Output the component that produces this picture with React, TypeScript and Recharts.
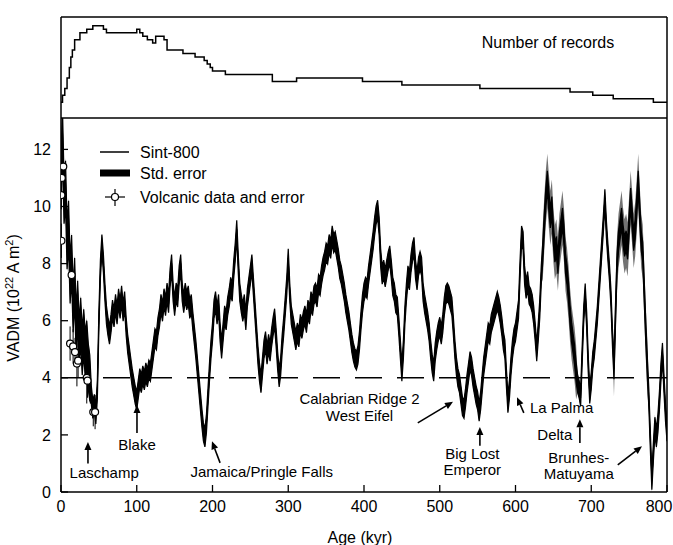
import React from 'react';
import { ComposedChart, LineChart, Line, Area, Scatter, ErrorBar, XAxis, YAxis, ReferenceLine } from 'recharts';

// Sint-800 VADM (10^22 A m^2), one value every 2 kyr from 0 to 800 kyr
const AGE_STEP = 2;
const vadm = [
  11.0, 12.6, 10.2, 10.8, 8.6, 9.4, 7.4, 8.2, 6.4, 7.4,
  5.6, 6.6, 5.2, 6.0, 4.9, 5.6, 4.8, 5.2, 4.4, 4.0,
  3.4, 2.9, 3.1, 2.7, 3.6, 6.0, 7.8, 8.7, 8.0, 7.0,
  6.2, 5.8, 5.5, 5.9, 6.4, 6.1, 6.6, 6.2, 6.8, 6.4,
  6.9, 6.3, 6.7, 5.8, 5.2, 4.8, 4.4, 4.0, 3.7, 3.4,
  3.2, 3.6, 4.0, 3.8, 4.1, 3.9, 4.2, 4.0, 4.3, 4.2,
  4.6, 5.0, 5.4, 5.3, 5.8, 6.1, 6.6, 6.3, 6.8, 6.5,
  7.0, 6.6, 7.5, 8.0, 7.0, 6.5, 7.0, 6.8, 7.6, 8.0,
  7.0, 6.6, 7.0, 6.7, 6.9, 6.4, 6.6, 6.0, 5.5, 5.0,
  4.4, 3.8, 3.2, 2.6, 2.1, 1.9, 2.4, 3.3, 4.2, 5.0,
  5.6, 6.4, 6.7, 6.2, 6.6, 5.6, 5.0, 5.6, 6.2, 6.0,
  6.5, 6.8, 7.2, 7.0, 7.8, 8.4, 9.2, 8.0, 7.0, 6.6,
  6.3, 6.6, 6.0, 6.8, 7.2, 7.6, 8.0, 7.2, 6.4, 5.6,
  4.8, 4.2, 3.8, 4.4, 5.0, 5.3, 4.8, 5.2, 4.9, 5.4,
  5.8, 6.1, 5.4, 4.6, 4.0, 4.4, 5.2, 5.8, 6.5, 7.2,
  8.2, 7.0, 6.2, 5.9, 5.6, 5.3, 5.6, 5.4, 5.9, 5.7,
  6.0, 6.2, 5.9, 6.4, 6.2, 6.7, 6.5, 6.9, 7.0, 6.8,
  7.3, 7.2, 7.6, 7.9, 8.1, 8.4, 8.3, 8.7, 8.5, 9.0,
  8.7, 8.8, 8.5, 8.2, 7.8, 7.6, 7.3, 7.0, 6.6, 6.3,
  6.0, 5.6, 5.2, 4.9, 4.7, 4.6, 4.8, 5.3, 6.0, 6.6,
  7.0, 7.2, 7.1, 7.6, 8.0, 8.4, 8.8, 9.3, 9.7, 9.9,
  9.3, 8.2, 7.6, 7.8, 7.5, 7.8, 8.1, 8.3, 7.8, 7.2,
  7.0, 6.6, 6.5, 5.8, 5.0, 4.2, 5.0, 6.2, 7.0, 7.6,
  7.4, 8.0, 8.4, 8.6, 7.8, 7.4, 7.9, 8.1, 7.9, 7.0,
  6.6, 6.3, 6.0, 5.6, 5.0, 4.5, 4.2, 4.9, 5.3, 5.6,
  5.8, 5.5, 5.9, 6.5, 6.9, 7.0, 6.9, 6.7, 6.5, 5.8,
  5.0, 4.4, 4.0, 3.8, 3.4, 3.0, 2.9, 3.3, 3.8, 4.2,
  4.6, 4.4, 4.0, 3.7, 3.4, 3.2, 2.8, 3.2, 3.8, 4.4,
  4.8, 5.2, 5.6, 5.5, 5.9, 6.1, 6.3, 6.5, 6.7, 6.5,
  6.2, 5.8, 5.3, 5.0, 4.0, 3.1, 3.6, 4.4, 5.0, 5.4,
  5.6, 6.0, 6.4, 7.8, 9.0, 8.8, 7.6, 7.1, 7.4, 6.9,
  6.8, 6.6, 6.2, 5.6, 4.9, 5.6, 6.4, 7.6, 8.4, 9.4,
  10.3, 10.9, 10.2, 9.6, 10.0, 9.0, 8.4, 8.6, 8.0, 8.8,
  9.2, 9.6, 9.0, 8.0, 7.6, 7.0, 6.2, 5.6, 5.2, 4.8,
  4.2, 3.8, 3.6, 3.3, 4.8, 6.2, 7.0, 6.0, 4.5, 3.4,
  3.9, 4.6, 5.0, 5.6, 6.2, 7.0, 7.8, 8.6, 9.4, 10.3,
  9.2, 8.4, 7.7, 6.8, 5.4, 4.3, 6.2, 8.0, 8.8, 9.2,
  9.6, 9.0, 8.6, 8.8, 8.5, 9.4, 10.3, 9.6, 8.8, 9.2,
  10.0, 10.9, 9.8, 8.8, 8.4, 7.0, 5.6, 4.4, 3.3, 1.8,
  0.4, 1.4, 2.3, 1.9, 2.4, 3.2, 4.2, 4.9, 3.8, 2.8,
  2.1,
];

// std. error half-width, piecewise by age
const errBreaks = [0, 40, 636, 682, 730, 776];
const errCore = [0.8, 0.32, 0.35, 0.3, 0.35, 0.32];
const errOuter = [0.9, 0.32, 0.95, 0.35, 0.95, 0.4];

// volcanic data
const volcAges = [0.5, 0.5, 1, 3, 12, 14, 16, 18.5, 21, 22.6, 34, 35, 42.6, 45];
const volcVadm = [10.4, 8.8, 11.0, 11.4, 5.2, 7.6, 5.1, 4.9, 4.5, 4.6, 4.0, 3.9, 2.8, 2.8];
const volcErr = [0.5, 0.6, 0.5, 0.5, 0.6, 0.5, 0.6, 0.5, 0.8, 0.6, 0.9, 0.6, 0.5, 0.6];

// number of records (step)
const recAges = [0, 2, 5, 8, 11, 13, 15, 18, 25, 34, 42, 56, 60, 100, 104, 108, 114, 121, 125, 136, 140, 161, 177, 189, 193, 197, 200, 217, 279, 311, 398, 450, 553, 672, 702, 729, 782, 800];
const recCount = [6, 8, 10, 13, 16, 19, 21, 24, 26, 27, 28, 27, 26, 27, 26, 25, 24, 23, 25, 24, 21, 20, 19, 18, 17, 16, 15, 14, 12, 13, 12, 11, 10, 9, 8, 7, 6, 6];

const ageTicks = [0, 100, 200, 300, 400, 500, 600, 700, 800];
const vadmTicks = [0, 2, 4, 6, 8, 10, 12];
const recTicks = [10, 20];

const X_MAX = 800;
const Y_MAX = 13.1;
const FONT = "'Liberation Sans', Arial, Helvetica, sans-serif";
const PLOT = { left: 61, right: 667, top: 118, bottom: 492 };

const px = (a: number) => PLOT.left + (a / X_MAX) * (PLOT.right - PLOT.left);
const py = (v: number) => PLOT.bottom - (v / Y_MAX) * (PLOT.bottom - PLOT.top);

const sintData = vadm.map((v, i) => {
  const age = i * AGE_STEP;
  let k = 0;
  while (k + 1 < errBreaks.length && age >= errBreaks[k + 1]) k++;
  return {
    age,
    v,
    core: [v - errCore[k], v + errCore[k]],
    outer: [v - errOuter[k], v + errOuter[k]],
  };
});
const volcData = volcAges.map((age, i) => ({ age, v: volcVadm[i], err: volcErr[i] }));
const recData = recAges.map((age, i) => ({ age, n: recCount[i] }));

const notes = [
  { lines: ['Laschamp'], at: [57, 0.67], anchor: 'middle', arrow: [[35.6, 1.0], [35.6, 1.75]] },
  { lines: ['Blake'], at: [100.3, 1.65], anchor: 'middle', arrow: [[100.3, 2.07], [100.3, 3.05]] },
  { lines: ['Jamaica/Pringle Falls'], at: [265, 0.7], anchor: 'middle', arrow: [[210, 1.02], [199.3, 1.78]] },
  { lines: ['Calabrian Ridge 2', 'West Eifel'], at: [394, 3.25], anchor: 'middle', arrow: [[471, 2.42], [517.5, 3.16]] },
  { lines: ['Big Lost', 'Emperor'], at: [543, 1.34], anchor: 'middle', arrow: [[553, 1.62], [553, 2.28]] },
  { lines: ['La Palma'], at: [619, 2.95], anchor: 'start', arrow: [[611, 2.77], [602, 3.32]] },
  { lines: ['Delta'], at: [652, 2.0], anchor: 'middle', arrow: [[685, 1.72], [685, 2.55]] },
  { lines: ['Brunhes-', 'Matuyama'], at: [683.5, 1.2], anchor: 'middle', arrow: [[735, 0.95], [767, 1.6]] },
];

function Arrow({ from, to }: { from: number[]; to: number[] }) {
  const x1 = px(from[0]), y1 = py(from[1]), x2 = px(to[0]), y2 = py(to[1]);
  const a = Math.atan2(y2 - y1, x2 - x1);
  const L = 8, H = 3.5;
  const bx = x2 - L * Math.cos(a), by = y2 - L * Math.sin(a);
  const p1 = `${bx + H * Math.sin(a)},${by - H * Math.cos(a)}`;
  const p2 = `${bx - H * Math.sin(a)},${by + H * Math.cos(a)}`;
  return (
    <g>
      <line x1={x1} y1={y1} x2={bx} y2={by} stroke="#000" strokeWidth={1.6} />
      <polygon points={`${x2},${y2} ${p1} ${p2}`} fill="#000" />
    </g>
  );
}

// x tick label; the last one is pulled in so it stays inside the page
function AgeTick(props: any) {
  const { x, y, payload } = props;
  const shift = payload.value === X_MAX ? -8 : 0;
  return (
    <text x={x + shift} y={y} dy="0.71em" textAnchor="middle" fill="#000" fontSize={16} fontFamily={FONT}>
      {payload.value}
    </text>
  );
}

const axisLine = { stroke: '#000', strokeWidth: 1.5 };
const tickLine = { stroke: '#000', strokeWidth: 1.3 };
const tickText = { fill: '#000', fontSize: 16, fontFamily: FONT };

export default function App() {
  return (
    <div style={{ position: 'absolute', left: 0, top: 0, width: 673, height: 545, background: '#fff' }}>
      <div style={{ position: 'absolute', left: 0, top: 0 }}>
        <LineChart width={673} height={130} data={recData} margin={{ top: 16, right: 5, bottom: 12, left: 60 }}>
          <XAxis xAxisId="t" orientation="top" dataKey="age" type="number" domain={[0, X_MAX]} ticks={ageTicks} height={1}
            tickSize={-4} tick={false} axisLine={axisLine} tickLine={tickLine} allowDataOverflow />
          <YAxis yAxisId="l" domain={[1.5, 30.5]} ticks={recTicks} width={1} tickSize={-7} tick={false}
            axisLine={axisLine} tickLine={tickLine} allowDataOverflow />
          <YAxis yAxisId="r" orientation="right" domain={[1.5, 30.5]} ticks={recTicks} width={1} tickSize={-7} tick={false}
            axisLine={axisLine} tickLine={tickLine} allowDataOverflow />
          <Line xAxisId="t" yAxisId="l" type="stepAfter" dataKey="n" stroke="#000" strokeWidth={1.5} dot={false} isAnimationActive={false} />
        </LineChart>
      </div>
      <div style={{ position: 'absolute', left: 0, top: 0 }}>
        <ComposedChart width={673} height={545} margin={{ top: 117, right: 5, bottom: 52, left: 60 }}>
          <XAxis xAxisId="b" dataKey="age" type="number" domain={[0, X_MAX]} ticks={ageTicks} interval={0} height={1}
            tickSize={-7} tickMargin={16} axisLine={axisLine} tickLine={tickLine} tick={<AgeTick />} allowDataOverflow />
          <XAxis xAxisId="t" orientation="top" dataKey="age" type="number" domain={[0, X_MAX]} ticks={ageTicks} height={1}
            tickSize={-7} tick={false} axisLine={axisLine} tickLine={tickLine} allowDataOverflow />
          <YAxis yAxisId="l" type="number" domain={[0, Y_MAX]} ticks={vadmTicks} interval={0} width={1}
            tickSize={-7} tickMargin={17} axisLine={axisLine} tickLine={tickLine} tick={tickText} allowDataOverflow />
          <YAxis yAxisId="r" orientation="right" type="number" domain={[0, Y_MAX]} ticks={vadmTicks} width={1}
            tickSize={-7} tick={false} axisLine={axisLine} tickLine={tickLine} allowDataOverflow />
          <ReferenceLine xAxisId="b" yAxisId="l" y={4} stroke="#000" strokeWidth={1.5} strokeDasharray="27 15" />
          <Area xAxisId="b" yAxisId="l" data={sintData} type="linear" dataKey="outer" stroke="none" fill="#5a5a5a"
            fillOpacity={0.85} isAnimationActive={false} />
          <Area xAxisId="b" yAxisId="l" data={sintData} type="linear" dataKey="core" stroke="#000" strokeWidth={1.2}
            fill="#000" fillOpacity={1} isAnimationActive={false} />
          <Line xAxisId="b" yAxisId="l" data={sintData} type="linear" dataKey="v" stroke="#000" strokeWidth={1}
            dot={false} isAnimationActive={false} />
          <Scatter xAxisId="b" yAxisId="l" data={volcData} dataKey="v" isAnimationActive={false}
            shape={(p: any) => <circle cx={p.cx} cy={p.cy} r={3.5} fill="#fff" stroke="#000" strokeWidth={1.2} />}>
            <ErrorBar dataKey="err" direction="y" width={0} stroke="#000" strokeWidth={1} />
          </Scatter>
        </ComposedChart>
      </div>
      <svg width={673} height={545} style={{ position: 'absolute', left: 0, top: 0, pointerEvents: 'none' }}
        fontFamily={FONT} fontSize={16} fill="#000">
        <text x={548} y={42} dy="0.35em" textAnchor="middle">Number of records</text>

        <line x1={100} y1={152} x2={129} y2={152} stroke="#000" strokeWidth={1.5} />
        <text x={140} y={152} dy="0.35em">Sint-800</text>
        <rect x={100} y={169.5} width={30} height={7} fill="#000" />
        <text x={140} y={173} dy="0.35em">Std. error</text>
        <line x1={105} y1={197} x2={125} y2={197} stroke="#000" strokeWidth={1.2} />
        <line x1={115} y1={189} x2={115} y2={206} stroke="#000" strokeWidth={1.2} />
        <circle cx={115} cy={197} r={3.5} fill="#fff" stroke="#000" strokeWidth={1.2} />
        <text x={140} y={197} dy="0.35em">Volcanic data and error</text>

        {notes.map((n, i) => (
          <g key={i}>
            {n.lines.map((t, j) => (
              <text key={j} x={px(n.at[0])} y={py(n.at[1]) + j * 16.5} dy="0.35em" fontSize={15}
                textAnchor={n.anchor as any}>{t}</text>
            ))}
            <Arrow from={n.arrow[0]} to={n.arrow[1]} />
          </g>
        ))}

        <text x={360} y={537} dy="0.35em" textAnchor="middle">Age (kyr)</text>
        <text transform="translate(13, 298) rotate(-90)" dy="0.35em" textAnchor="middle">
          VADM (10<tspan dy={-6} fontSize={11}>22</tspan><tspan dy={6}> A m</tspan><tspan dy={-6} fontSize={11}>2</tspan><tspan dy={6}>)</tspan>
        </text>
      </svg>
    </div>
  );
}
